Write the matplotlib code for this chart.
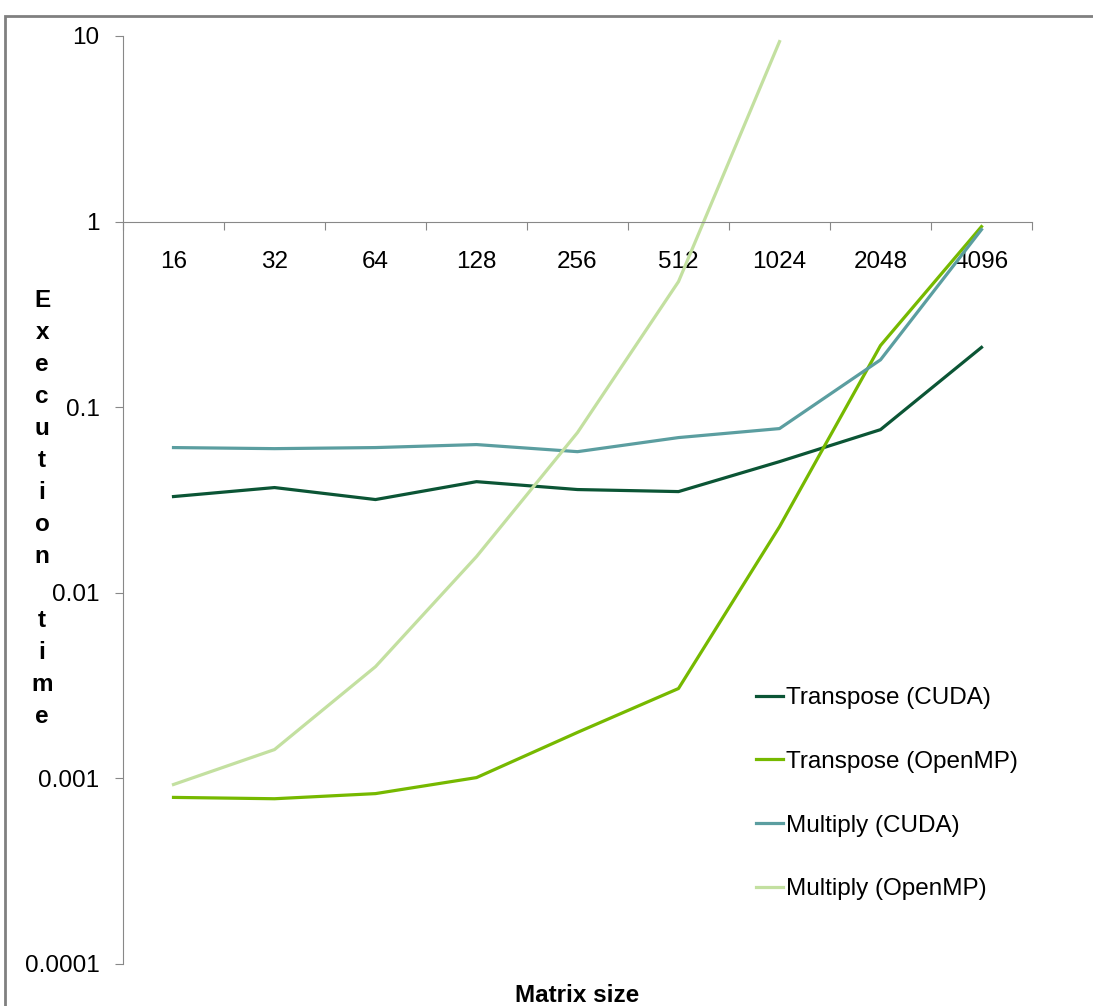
import matplotlib.pyplot as plt
from matplotlib.patches import Rectangle

plt.rcParams['font.family'] = ['Liberation Sans', 'DejaVu Sans']

sizes = ['16', '32', '64', '128', '256', '512', '1024', '2048', '4096']
transpose_cuda = [0.033, 0.0369, 0.0318, 0.0397, 0.036, 0.0351, 0.0509, 0.0757, 0.21]
transpose_omp = [0.00079, 0.000777, 0.000828, 0.00101, 0.00177, 0.00305, 0.0227, 0.215, 0.94]
multiply_cuda = [0.0606, 0.0598, 0.0606, 0.0629, 0.0576, 0.0686, 0.0767, 0.18, 0.906]
multiply_omp = [0.000927, 0.00143, 0.0040, 0.01567, 0.073, 0.475, 9.33]

W, H = 1093, 1006
fs = 17.5
fig = plt.figure(figsize=(W / 100, H / 100), dpi=100)
ax = fig.add_axes([123 / W, 42 / H, (1032 - 123) / W, (964 - 36) / H])

x = list(range(len(sizes)))
ax.plot(x, transpose_cuda, color='#0b5535', lw=2.3, label='Transpose (CUDA)')
ax.plot(x, transpose_omp, color='#76b900', lw=2.3, label='Transpose (OpenMP)')
ax.plot(x, multiply_cuda, color='#5b9ea0', lw=2.3, label='Multiply (CUDA)')
ax.plot(x[:len(multiply_omp)], multiply_omp, color='#c3e0a0', lw=2.3, label='Multiply (OpenMP)')

ax.set_yscale('log')
ax.set_ylim(1e-4, 10)
ax.set_xlim(-0.5, len(sizes) - 0.5)

grey = '#888888'
for s in ['top', 'right']:
    ax.spines[s].set_visible(False)
ax.spines['left'].set_color(grey)
ax.spines['bottom'].set_color(grey)
ax.spines['bottom'].set_position(('data', 1))

ax.set_yticks([1e-4, 1e-3, 1e-2, 1e-1, 1, 10])
ax.set_yticklabels(['0.0001', '0.001', '0.01', '0.1', '1', '10'])
ax.yaxis.set_minor_locator(plt.NullLocator())
ax.tick_params(axis='y', which='major', length=6, color=grey, labelsize=fs, pad=11)

# boundaries get the tick marks, category names sit between them
ax.set_xticks([i - 0.5 for i in range(len(sizes) + 1)])
ax.set_xticklabels([])
ax.set_xticks(x, minor=True)
ax.set_xticklabels(sizes, minor=True)
ax.tick_params(axis='x', which='major', direction='out', length=6, color=grey)
ax.tick_params(axis='x', which='minor', length=0, labelsize=fs, pad=21)

ax.text(-0.089, 0.491, '\n'.join('Execution time'), transform=ax.transAxes,
        ha='center', va='center', fontsize=fs, fontweight='bold', linespacing=1.50)
fig.text(577 / W, (H - 996) / H, 'Matrix size', ha='center', va='center',
         fontsize=fs, fontweight='bold')

ax.legend(loc='upper left', bbox_to_anchor=(756 / W, (H - 687) / H),
          bbox_transform=fig.transFigure, frameon=False, fontsize=fs,
          handlelength=1.12, handletextpad=0.12, labelspacing=1.72, borderpad=0,
          borderaxespad=0)

fig.add_artist(Rectangle((5 / W, -0.1), 1.2, 1.1 - 16 / H, transform=fig.transFigure,
                         fill=False, edgecolor='#808080', lw=2))

fig.savefig('out.png', dpi=100)
